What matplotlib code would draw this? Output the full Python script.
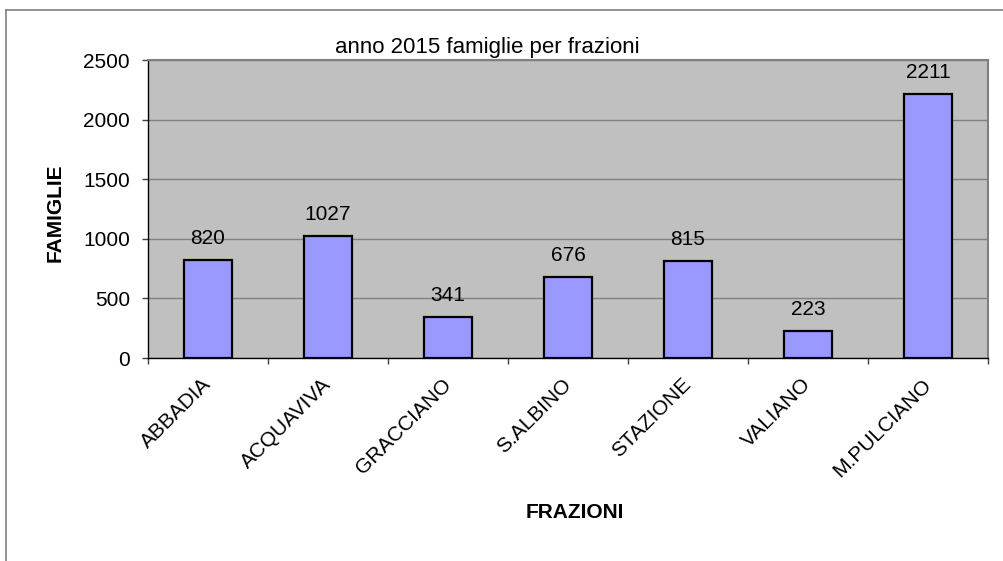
import matplotlib
matplotlib.use("Agg")
import matplotlib.pyplot as plt
from matplotlib.lines import Line2D
import numpy as np

categories = ["ABBADIA", "ACQUAVIVA", "GRACCIANO", "S.ALBINO", "STAZIONE", "VALIANO", "M.PULCIANO"]
values = [820, 1027, 341, 676, 815, 223, 2211]
yticks = [0, 500, 1000, 1500, 2000, 2500]
title = "anno 2015 famiglie per frazioni"
xlabel = "FRAZIONI"
ylabel = "FAMIGLIE"

plt.rcParams['font.family'] = ['Liberation Sans', 'DejaVu Sans']

W, H = 1004, 561
fig = plt.figure(figsize=(W / 100, H / 100), dpi=100)
fig.patch.set_facecolor("white")

# outer chart border (left and top visible)
fig.add_artist(Line2D([6 / W, 6 / W], [0, 1 - 10 / H], transform=fig.transFigure, color="#808080", lw=1.2))
fig.add_artist(Line2D([6 / W, 1], [1 - 10 / H, 1 - 10 / H], transform=fig.transFigure, color="#808080", lw=1.2))

left, right, top, bottom = 148, 988, 60, 358
ax = fig.add_axes([left / W, 1 - bottom / H, (right - left) / W, (bottom - top) / H])
ax.set_facecolor("#c0c0c0")

x = np.arange(len(categories))
bars = ax.bar(x, values, width=0.4, color="#9999ff", edgecolor="black", linewidth=1.6, zorder=3)
for xi, v in zip(x, values):
    ax.annotate(str(v), (xi, v), xytext=(0, 11.5), textcoords="offset points",
                ha="center", va="baseline", fontsize=15, color="black")

ax.set_xlim(-0.5, len(categories) - 0.5)
ax.set_ylim(0, 2500)
ax.set_yticks(yticks)
ax.set_yticklabels([str(t) for t in yticks], fontsize=15)
ax.yaxis.grid(True, color="#808080", lw=1.0, zorder=0)
ax.set_axisbelow(True)

ax.set_xticks(x)
ax.set_xticklabels(categories, fontsize=15, rotation=45, ha="right", va="center",
                   rotation_mode="anchor")
ax.tick_params(axis="x", which="major", length=0, pad=17)
ax.set_xticks(np.arange(len(categories) + 1) - 0.5, minor=True)
ax.tick_params(axis="x", which="minor", length=4.5, width=1, color="#404040")
ax.tick_params(axis="y", length=4.5, width=1, color="#404040", pad=8.5)

for s in ["left", "bottom"]:
    ax.spines[s].set_color("black")
    ax.spines[s].set_linewidth(1.0)
for s in ["top", "right"]:
    ax.spines[s].set_color("#808080")
    ax.spines[s].set_linewidth(1.5)

fig.text(487 / W, 1 - 53 / H, title, ha="center", va="baseline", fontsize=16)
fig.text(574.5 / W, 1 - 518 / H, xlabel, ha="center", va="baseline", fontsize=15, fontweight="bold")
fig.text(55 / W, 1 - 213 / H, ylabel, ha="center", va="center", rotation=90, fontsize=15, fontweight="bold")

fig.savefig("out.png", dpi=100)
